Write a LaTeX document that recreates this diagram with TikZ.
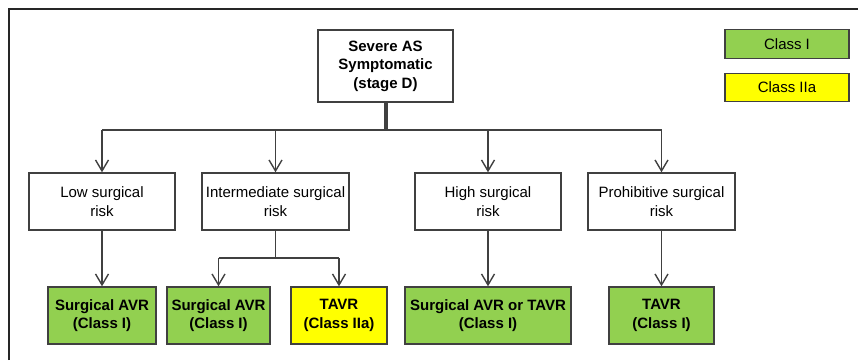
\documentclass[tikz,border=0pt]{standalone}
\usepackage{fontspec}
\setmainfont{Liberation Sans}
\usepackage{xcolor}
\usetikzlibrary{arrows.meta,positioning}
\definecolor{lineGray}{HTML}{404040}
\definecolor{classOne}{HTML}{92D050}
\definecolor{classTwo}{HTML}{FFFF00}
\tikzset{
  box/.style={draw=lineGray, line width=1.4pt, inner sep=0pt, align=center,
    font=\fontsize{15}{18.5}\selectfont},
  riskbox/.style={box, minimum height=57pt},
  recbox/.style={box, minimum height=57pt, font=\fontsize{15}{18.5}\selectfont\bfseries},
  legendbox/.style={box, minimum width=124pt, minimum height=28.5pt},
  conn/.style={draw=lineGray, line width=1.4pt},
}

\begin{document}
\begin{tikzpicture}[x=1pt, y=-1pt, >={Straight Barb[length=11pt,width=13pt]}]
        \useasboundingbox (0,0) rectangle (858,360);

        % Frame
        \draw[line width=2pt, black!85] (9,360) -- (9,9) -- (858,9);

        % Root
        \node[box, font=\fontsize{15}{18.5}\selectfont\bfseries,
              minimum width=135pt, minimum height=72pt] (root) at (385.5,66)
              {Severe AS\\Symptomatic\\(stage D)};

        % Legend
        \node[legendbox, fill=classOne] (legOne) at (787,44) {Class I};
        \node[legendbox, fill=classTwo] (legTwo) at (787,87.5) {Class IIa};

        % Risk level
        \node[riskbox, minimum width=146pt] (low) at (102,201.5) {Low surgical\\risk};
        \node[riskbox, minimum width=147pt] (inter) at (275.5,201.5) {Intermediate surgical\\risk};
        \node[riskbox, minimum width=146pt] (high) at (488,201.5) {High surgical\\risk};
        \node[riskbox, minimum width=147pt] (proh) at (661.5,201.5) {Prohibitive surgical\\risk};

        % Recommendations
        \node[recbox, fill=classOne, minimum width=108pt] (lowAvr) at (102,315.5) {Surgical AVR\\(Class I)};
        \node[recbox, fill=classOne, minimum width=103pt] (interAvr) at (218.5,315.5) {Surgical AVR\\(Class I)};
        \node[recbox, fill=classTwo, minimum width=96pt] (interTavr) at (339,315.5) {TAVR\\(Class IIa)};
        \node[recbox, fill=classOne, minimum width=166pt] (highBoth) at (488,315.5) {Surgical AVR or TAVR\\(Class I)};
        \node[recbox, fill=classOne, minimum width=105pt] (prohTavr) at (661.5,315.5) {TAVR\\(Class I)};

        % Connectors
        \coordinate (bus) at (0,130);
        \coordinate (split) at (0,258);
        \draw[conn, line width=4pt] (root.south) -- (root.south |- bus);
        \draw[conn] (low.north |- bus) -- (proh.north |- bus);
        \foreach \n in {low, inter, high, proh}
            \draw[conn, ->] (\n.north |- bus) -- (\n.north);
        \draw[conn, ->] (low) -- (lowAvr);
        \draw[conn, ->] (high) -- (highBoth);
        \draw[conn, ->] (proh) -- (prohTavr);
        \draw[conn] (inter.south) -- (inter.south |- split);
        \draw[conn] (interAvr.north |- split) -- (interTavr.north |- split);
        \draw[conn, ->] (interAvr.north |- split) -- (interAvr.north);
        \draw[conn, ->] (interTavr.north |- split) -- (interTavr.north);
\end{tikzpicture}
\end{document}
